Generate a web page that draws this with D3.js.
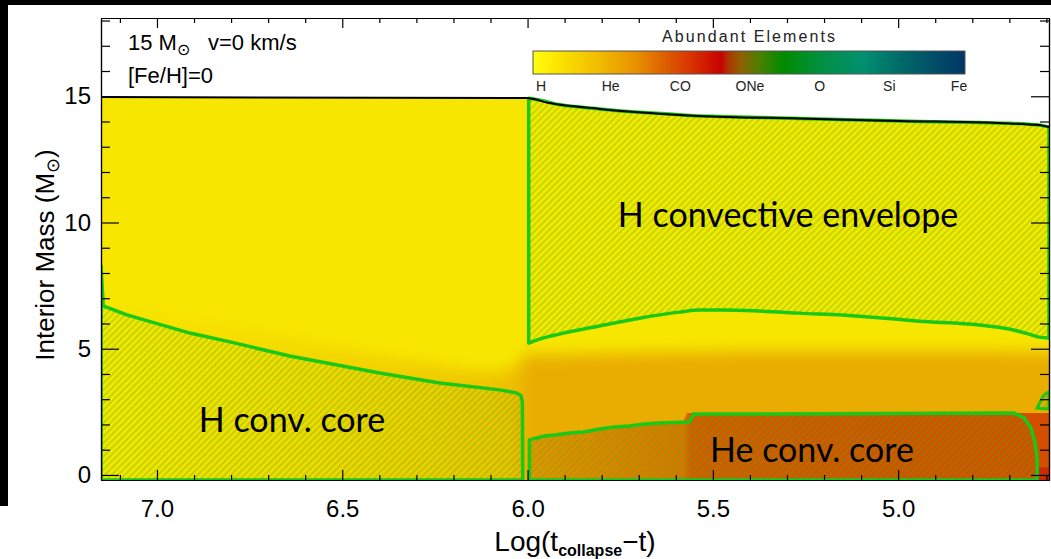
<!DOCTYPE html>
<html>
<head>
<meta charset="utf-8">
<script src="https://cdn.jsdelivr.net/npm/d3@7"></script>
<style>
  body { margin: 0; background: #fff; }
  svg { display: block; }
  text { font-family: "Liberation Sans", Arial, sans-serif; }
  .lbl { font-family: Lato, "Open Sans", sans-serif; }
</style>
</head>
<body>
<div id="chart"></div>
<script>
// ---- data (log time to collapse, interior mass in Msun) ----
const surfLogT = [7.151, 6.003, 5.941, 5.806, 5.671, 5.536, 5.267, 4.997, 4.728, 4.62, 4.593];
const surfMass = [14.97, 14.93, 14.73, 14.50, 14.34, 14.22, 14.12, 14.02, 13.94, 13.86, 13.78];

const hCoreLogT = [7.151, 7.151, 7.145, 7.081, 6.911, 6.803, 6.642, 6.399, 6.237, 6.075, 6.030, 6.018, 6.014, 6.013];
const hCoreMass = [-0.2, 8.28, 6.70, 6.34, 5.62, 5.27, 4.71, 4.04, 3.64, 3.37, 3.25, 3.15, 2.9, -0.2];

const envLogT = [5.997, 5.968, 5.914, 5.806, 5.698, 5.59, 5.536, 5.482, 5.375, 5.267, 5.105, 4.943, 4.782, 4.701, 4.647, 4.62, 4.593];
const envBotMass = [5.22, 5.38, 5.58, 5.90, 6.21, 6.45, 6.53, 6.53, 6.49, 6.41, 6.29, 6.09, 5.94, 5.78, 5.58, 5.46, 5.42];
const envTopMass = [14.92, 14.85, 14.67, 14.50, 14.37, 14.27, 14.22, 14.20, 14.16, 14.12, 14.06, 14.00, 13.96, 13.93, 13.89, 13.86, 13.78];

const heCoreLogT = [5.995, 5.995, 5.954, 5.925, 5.887, 5.850, 5.833, 5.806, 5.766, 5.725, 5.685, 5.644, 5.563, 5.552, 4.687, 4.660, 4.642, 4.631, 4.625, 4.625];
const heCoreMass = [-0.2, 1.39, 1.54, 1.58, 1.66, 1.70, 1.74, 1.82, 1.90, 1.94, 2.02, 2.06, 2.10, 2.41, 2.45, 2.26, 1.86, 1.31, 0.67, -0.2];

const cShellLogT = [4.625, 4.615, 4.607, 4.599, 4.593];
const cShellTop = [2.65, 2.95, 3.15, 3.25, 3.29];
const cShellBot = [2.65, 2.63, 2.62, 2.62, 2.62];

// composition zones (background colours)
const heRichLogT = [7.151, 6.9, 6.6, 6.3, 6.1, 6.03, 6.0, 5.95, 5.8, 5.6, 5.4, 5.0, 4.8, 4.56];
const heRichMass = [6.9, 6.2, 5.3, 4.5, 4.1, 4.3, 4.8, 4.75, 4.8, 4.85, 4.9, 4.9, 4.9, 4.85];
const heavyLogT = [5.995, 5.995, 5.954, 5.887, 5.806, 5.725, 5.644, 5.58, 5.57, 4.593];
const heavyMass = [-0.2, 1.39, 1.54, 1.66, 1.82, 1.94, 2.06, 2.12, 2.45, 2.45];
const coCoreLogT = [4.625, 4.593];
const coCoreMass = [0.3, 0.3];

// axis ticks
const xMajor = [7.0, 6.5, 6.0, 5.5, 5.0];
const xMinor = [7.1, 6.9, 6.8, 6.7, 6.6, 6.4, 6.3, 6.2, 6.1, 5.9, 5.8, 5.7, 5.6, 5.4, 5.3, 5.2, 5.1, 4.9, 4.8, 4.7, 4.6];
const yMajor = [0, 5, 10, 15];
const yMinor = [1, 2, 3, 4, 6, 7, 8, 9, 11, 12, 13, 14, 16, 17, 18];

// colour bar
const elements = ['H', 'He', 'CO', 'ONe', 'O', 'Si', 'Fe'];
const barStops = [
  [0.00, '#ffff10'], [0.05, '#fde800'], [0.16, '#f0b800'], [0.24, '#e89000'],
  [0.29, '#e06a00'], [0.37, '#d83000'], [0.435, '#c80000'], [0.45, '#b03000'],
  [0.48, '#906000'], [0.525, '#4a8000'], [0.58, '#008a00'], [0.665, '#009040'],
  [0.765, '#009070'], [0.855, '#006868'], [1.00, '#003566']
];

// ---- chart ----
const W = 1051, H = 559;
const svg = d3.select('#chart').append('svg').attr('width', W).attr('height', H);
const defs = svg.append('defs');

const x = d3.scaleLinear().domain([7.151, 4.593]).range([101, 1049]);
const y = d3.scaleLinear().domain([-0.2, 18.1]).range([480, 18]);

svg.append('rect').attr('width', W).attr('height', H).attr('fill', '#fff');
svg.append('rect').attr('x', 0).attr('y', 0).attr('width', W).attr('height', 5).attr('fill', '#000');
svg.append('rect').attr('x', 0).attr('y', 0).attr('width', 8).attr('height', 506).attr('fill', '#000');

defs.append('clipPath').attr('id', 'plotClip')
  .append('rect').attr('x', 101).attr('y', 18).attr('width', 948).attr('height', 462);

const hatch = defs.append('pattern').attr('id', 'hatch')
  .attr('patternUnits', 'userSpaceOnUse')
  .attr('width', 4.7).attr('height', 4.7)
  .attr('patternTransform', 'rotate(45)');
hatch.append('line').attr('x1', 1).attr('y1', -1).attr('x2', 1).attr('y2', 6)
  .attr('stroke', '#3cba00').attr('stroke-opacity', 0.6).attr('stroke-width', 1);

defs.append('filter').attr('id', 'soft')
  .attr('x', '-10%').attr('y', '-10%').attr('width', '120%').attr('height', '120%')
  .append('feGaussianBlur').attr('stdDeviation', 8);

const off = v => (x(v) - 101) / 948;

const heGrad = defs.append('linearGradient').attr('id', 'heGrad')
  .attr('gradientUnits', 'userSpaceOnUse').attr('x1', 101).attr('x2', 1049).attr('y1', 0).attr('y2', 0);
[[7.151, 0.03], [6.6, 0.25], [6.2, 0.5], [6.03, 0.68], [6.0, 1], [4.593, 1]].forEach(s => {
  heGrad.append('stop').attr('offset', off(s[0])).attr('stop-color', '#e9ac00').attr('stop-opacity', s[1]);
});

const hvGrad = defs.append('linearGradient').attr('id', 'hvGrad')
  .attr('gradientUnits', 'userSpaceOnUse').attr('x1', 101).attr('x2', 1049).attr('y1', 0).attr('y2', 0);
[[6.0, '#e49400'], [5.75, '#df8000'], [5.58, '#dc7400'], [5.56, '#d65a00'], [5.2, '#d45200'], [4.593, '#d44e00']].forEach(s => {
  hvGrad.append('stop').attr('offset', off(s[0])).attr('stop-color', s[1]);
});

const pts = (ts, ms) => ts.map((t, i) => ({ t: t, m: ms[i] }));
const areaBase = d3.area().x(d => x(d.t)).y0(y(-0.2)).y1(d => y(d.m));

const plot = svg.append('g').attr('clip-path', 'url(#plotClip)');

// star body
plot.append('path')
  .datum(pts(surfLogT, surfMass))
  .attr('d', areaBase.curve(d3.curveMonotoneX))
  .attr('fill', '#f7e700');

// He-rich tint
plot.append('g').attr('filter', 'url(#soft)')
  .append('path')
  .datum(pts(heRichLogT, heRichMass))
  .attr('d', d3.area().x(d => x(d.t)).y0(y(-1)).y1(d => y(d.m)).curve(d3.curveMonotoneX))
  .attr('fill', 'url(#heGrad)');

// He-burning products
plot.append('path')
  .datum(pts(heavyLogT, heavyMass))
  .attr('d', d3.area().x(d => x(d.t)).y0(y(-0.2)).y1(d => y(d.m)))
  .attr('fill', 'url(#hvGrad)');

plot.append('path')
  .datum(pts(coCoreLogT, coCoreMass))
  .attr('d', d3.area().x(d => x(d.t)).y0(y(-0.2)).y1(d => y(d.m)))
  .attr('fill', '#cc2a00');

// convective zones
const green = '#19c819';
const linArea = d3.area().x(d => x(d.t)).y0(y(-0.2)).y1(d => y(d.m));

plot.append('path')
  .datum(pts(hCoreLogT, hCoreMass))
  .attr('d', linArea)
  .attr('fill', 'url(#hatch)').attr('stroke', green).attr('stroke-width', 3.5)
  .attr('stroke-linejoin', 'round');

plot.append('path')
  .datum(envLogT.map((t, i) => ({ t: t, lo: envBotMass[i], hi: envTopMass[i] })))
  .attr('d', d3.area().x(d => x(d.t)).y0(d => y(d.lo)).y1(d => y(d.hi)).curve(d3.curveMonotoneX))
  .attr('fill', 'url(#hatch)').attr('stroke', green).attr('stroke-width', 3.5)
  .attr('stroke-linejoin', 'round');

plot.append('path')
  .datum(pts(heCoreLogT, heCoreMass))
  .attr('d', linArea)
  .attr('fill', 'url(#hatch)').attr('stroke', green).attr('stroke-width', 3.5)
  .attr('stroke-linejoin', 'round');

plot.append('path')
  .datum(cShellLogT.map((t, i) => ({ t: t, lo: cShellBot[i], hi: cShellTop[i] })))
  .attr('d', d3.area().x(d => x(d.t)).y0(d => y(d.lo)).y1(d => y(d.hi)).curve(d3.curveMonotoneX))
  .attr('fill', 'url(#hatch)').attr('stroke', green).attr('stroke-width', 3);

// stellar surface
plot.append('path')
  .datum(pts(surfLogT, surfMass))
  .attr('d', d3.line().x(d => x(d.t)).y(d => y(d.m)).curve(d3.curveMonotoneX))
  .attr('fill', 'none').attr('stroke', '#000').attr('stroke-width', 2);

// ---- axes ----
function styleAxis(g) {
  g.selectAll('path.domain').attr('stroke', '#000').attr('stroke-width', 1.2);
  g.selectAll('.tick line').attr('stroke', '#000').attr('stroke-width', 1.2);
  g.selectAll('text').attr('font-family', '"Liberation Sans", Arial, sans-serif')
    .attr('font-size', 24).attr('fill', '#000');
}
const fmt = d3.format('.1f');

svg.append('g').attr('transform', 'translate(0,480)')
  .call(d3.axisBottom(x).tickValues(xMinor).tickSize(-5).tickSizeOuter(0).tickFormat(''))
  .call(styleAxis);
svg.append('g').attr('transform', 'translate(0,480)')
  .call(d3.axisBottom(x).tickValues(xMajor).tickSize(-10).tickSizeOuter(0).tickFormat(fmt).tickPadding(20))
  .call(styleAxis);
svg.append('g').attr('transform', 'translate(0,18)')
  .call(d3.axisTop(x).tickValues(xMinor).tickSize(-5).tickSizeOuter(0).tickFormat(''))
  .call(styleAxis);
svg.append('g').attr('transform', 'translate(0,18)')
  .call(d3.axisTop(x).tickValues(xMajor).tickSize(-10).tickSizeOuter(0).tickFormat(''))
  .call(styleAxis);

svg.append('g').attr('transform', 'translate(101,0)')
  .call(d3.axisLeft(y).tickValues(yMinor).tickSize(-9).tickSizeOuter(0).tickFormat(''))
  .call(styleAxis);
svg.append('g').attr('transform', 'translate(101,0)')
  .call(d3.axisLeft(y).tickValues(yMajor).tickSize(-18).tickSizeOuter(0).tickFormat(d3.format('d')).tickPadding(10))
  .call(styleAxis);
svg.append('g').attr('transform', 'translate(1049,0)')
  .call(d3.axisRight(y).tickValues(yMinor).tickSize(-9).tickSizeOuter(0).tickFormat(''))
  .call(styleAxis);
svg.append('g').attr('transform', 'translate(1049,0)')
  .call(d3.axisRight(y).tickValues(yMajor).tickSize(-18).tickSizeOuter(0).tickFormat(''))
  .call(styleAxis);

// axis titles
const yt = svg.append('text')
  .attr('transform', 'translate(54,255) rotate(-90)')
  .attr('text-anchor', 'middle').attr('font-size', 26);
yt.append('tspan').text('Interior Mass (M');
yt.append('tspan').text('\u2299').attr('font-size', 18).attr('dy', 5);
yt.append('tspan').text(')').attr('dy', -5);

const xt = svg.append('text')
  .attr('x', 575).attr('y', 551)
  .attr('text-anchor', 'middle').attr('font-size', 28);
xt.append('tspan').text('Log(t');
xt.append('tspan').text('collapse').attr('font-size', 16).attr('font-weight', 'bold').attr('dy', 5);
xt.append('tspan').text('\u2212t)').attr('dy', -5);

// model info
const t1 = svg.append('text').attr('x', 128).attr('y', 50).attr('font-size', 22);
t1.append('tspan').text('15 M');
t1.append('tspan').text('\u2299').attr('font-size', 16).attr('dy', 5);
t1.append('tspan').text('v=0 km/s').attr('dy', -5).attr('x', 208);
svg.append('text').attr('x', 128).attr('y', 83).attr('font-size', 22).text('[Fe/H]=0');

// zone labels
svg.append('text').attr('class', 'lbl').attr('x', 788).attr('y', 227)
  .attr('text-anchor', 'middle').attr('font-size', 34).text('H convective envelope');
svg.append('text').attr('class', 'lbl').attr('x', 292).attr('y', 432)
  .attr('text-anchor', 'middle').attr('font-size', 34).text('H conv. core');
svg.append('text').attr('class', 'lbl').attr('x', 812).attr('y', 462)
  .attr('text-anchor', 'middle').attr('font-size', 34).text('He conv. core');

// ---- colour bar ----
const barGrad = defs.append('linearGradient').attr('id', 'barGrad')
  .attr('x1', 0).attr('x2', 1).attr('y1', 0).attr('y2', 0);
barStops.forEach(s => barGrad.append('stop').attr('offset', s[0]).attr('stop-color', s[1]));

svg.append('rect').attr('x', 533).attr('y', 51).attr('width', 432).attr('height', 23)
  .attr('fill', 'url(#barGrad)').attr('stroke', '#555').attr('stroke-width', 1);
svg.append('text').attr('x', 662).attr('y', 42)
  .attr('font-size', 16).attr('fill', '#222')
  .attr('textLength', 173).attr('lengthAdjust', 'spacing').text('Abundant Elements');

const ex = d3.scalePoint().domain(elements).range([541, 959]);
svg.append('g').selectAll('text').data(elements).enter().append('text')
  .attr('x', d => ex(d)).attr('y', 91).attr('text-anchor', 'middle')
  .attr('font-size', 14).attr('fill', '#222').text(d => d);
</script>
</body>
</html>
